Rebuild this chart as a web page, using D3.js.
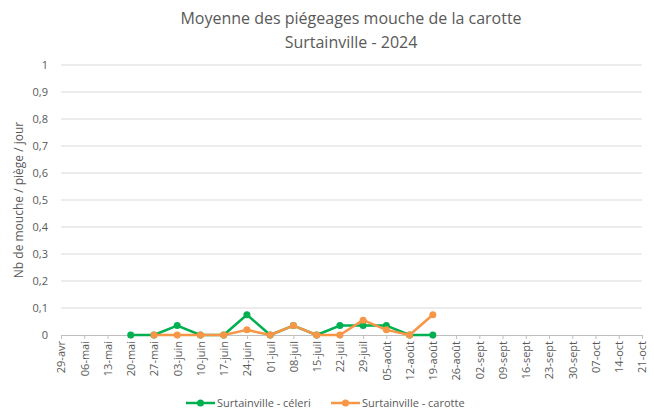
<!DOCTYPE html>
<html>
<head>
<meta charset="utf-8">
<script src="https://cdn.jsdelivr.net/npm/d3@7"></script>
<style>
  body { margin: 0; background: #fff; }
  text { font-family: "Open Sans", "Liberation Sans", sans-serif; fill: #595959; }
</style>
</head>
<body>
<svg id="chart" width="654" height="414"></svg>
<script>
var categories = ["29-avr", "06-mai", "13-mai", "20-mai", "27-mai", "03-juin", "10-juin", "17-juin",
  "24-juin", "01-juil", "08-juil", "15-juil", "22-juil", "29-juil", "05-août", "12-août", "19-août",
  "26-août", "02-sept", "09-sept", "16-sept", "23-sept", "30-sept", "07-oct", "14-oct", "21-oct"];

var celeri = [null, null, null, 0, 0, 0.035, 0, 0, 0.075, 0, 0.035, 0, 0.035, 0.035, 0.035, 0, 0,
  null, null, null, null, null, null, null, null, null];
var carotte = [null, null, null, null, 0, 0, 0, 0, 0.019, 0, 0.035, 0, 0, 0.055, 0.019, 0, 0.075,
  null, null, null, null, null, null, null, null, null];

var yTicks = [0, 0.1, 0.2, 0.3, 0.4, 0.5, 0.6, 0.7, 0.8, 0.9, 1];

var series = [
  { name: "Surtainville - céleri", values: celeri, color: "#00B050" },
  { name: "Surtainville - carotte", values: carotte, color: "#F79646" }
];

var svg = d3.select("#chart");
var plotLeft = 61, plotRight = 642, plotTop = 65, plotBottom = 335;

var x = d3.scalePoint().domain(categories).range([plotLeft, plotRight]).padding(0);
var y = d3.scaleLinear().domain([0, 1]).range([plotBottom, plotTop]);
var fmt = function (d) { return String(d).replace(".", ","); };

// title
svg.append("text").attr("x", 351).attr("y", 24).attr("text-anchor", "middle")
  .style("font-size", "16px").text("Moyenne des piégeages mouche de la carotte");
svg.append("text").attr("x", 351).attr("y", 48).attr("text-anchor", "middle")
  .style("font-size", "16px").text("Surtainville - 2024");

// grid
svg.append("g").selectAll("line").data(yTicks.slice(1)).join("line")
  .attr("x1", plotLeft).attr("x2", plotRight)
  .attr("y1", function (d) { return y(d); }).attr("y2", function (d) { return y(d); })
  .attr("stroke", "#d9d9d9").attr("stroke-width", 1);

// y labels
svg.append("g").selectAll("text").data(yTicks).join("text")
  .attr("x", 48).attr("y", function (d) { return y(d) + 4; })
  .attr("text-anchor", "end").style("font-size", "11px")
  .text(fmt);

svg.append("text").attr("transform", "translate(23," + ((plotTop + plotBottom) / 2) + ") rotate(-90)")
  .attr("text-anchor", "middle").style("font-size", "12px")
  .text("Nb de mouche / piège / jour");

// x axis
var xAxis = d3.axisBottom(x).tickSize(4).tickSizeOuter(0);
var gx = svg.append("g").attr("transform", "translate(0," + plotBottom + ")").call(xAxis);
gx.select(".domain").attr("stroke", "#bfbfbf");
gx.selectAll(".tick line").attr("stroke", "#bfbfbf");
gx.selectAll(".tick text")
  .attr("transform", "rotate(-90)")
  .attr("x", -6).attr("y", 0).attr("dy", "0.35em")
  .attr("text-anchor", "end")
  .style("font-size", "11px").style("font-family", "'Open Sans', sans-serif").attr("fill", "#595959");

// lines
var line = d3.line()
  .defined(function (d) { return d != null; })
  .x(function (d, i) { return x(categories[i]); })
  .y(function (d) { return y(d); });

series.forEach(function (s) {
  var g = svg.append("g");
  g.append("path").datum(s.values).attr("d", line)
    .attr("fill", "none").attr("stroke", s.color).attr("stroke-width", 2.5)
    .attr("stroke-linejoin", "round");
  var pts = s.values.map(function (v, i) { return { v: v, c: categories[i] }; })
    .filter(function (d) { return d.v != null; });
  g.selectAll("circle").data(pts).join("circle")
    .attr("cx", function (d) { return x(d.c); })
    .attr("cy", function (d) { return y(d.v); })
    .attr("r", 3.5).attr("fill", s.color);
});

// legend
var legendX = [186, 331];
series.forEach(function (s, i) {
  var g = svg.append("g").attr("transform", "translate(" + legendX[i] + ",403)");
  g.append("line").attr("x1", 0).attr("x2", 29).attr("stroke", s.color).attr("stroke-width", 2.5);
  g.append("circle").attr("cx", 14.5).attr("r", 3.5).attr("fill", s.color);
  g.append("text").attr("x", 31).attr("y", 4).style("font-size", "11px").text(s.name);
});
</script>
</body>
</html>
